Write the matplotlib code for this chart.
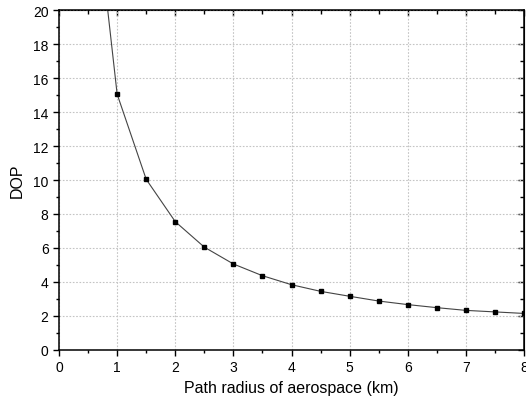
import matplotlib.pyplot as plt
import numpy as np

plt.rcParams['font.family'] = ['Liberation Sans', 'DejaVu Sans']

# path radius (km) and DOP
radius = [0.5, 1.0, 1.5, 2.0, 2.5, 3.0, 3.5, 4.0, 4.5, 5.0, 5.5, 6.0, 6.5, 7.0, 7.5, 8.0]
dop = [30.3, 15.05, 10.04, 7.55, 6.05, 5.06, 4.37, 3.84, 3.45, 3.16, 2.88, 2.67, 2.49, 2.33, 2.24, 2.15]

fig = plt.figure(figsize=(5.26, 4.02), dpi=100)
ax = fig.add_axes([0.1122, 0.1269, 0.8840, 0.8457])

ax.plot(radius, dop, color='#444444', lw=0.8, marker='s', ms=3.2,
        mfc='black', mec='black')

ax.set_xlim(0, 8)
ax.set_ylim(0, 20)
ax.set_xticks(np.arange(0, 9, 1))
ax.set_yticks(np.arange(0, 21, 2))
ax.set_xticks(np.arange(0.5, 8, 1), minor=True)
ax.set_yticks(np.arange(1, 20, 2), minor=True)

ax.grid(True, which='major', color='#c4c4c4', linestyle=(0, (1.5, 1.5)), lw=0.8)
ax.tick_params(which='major', direction='out', length=4, width=1, labelsize=10)
ax.tick_params(which='minor', direction='out', length=2.2, width=1)
for s in ax.spines.values():
    s.set_linewidth(1.1)

# top / right ticks pointing inward, no labels
top = ax.secondary_xaxis('top')
top.set_xticks(np.arange(0, 9, 1))
top.set_xticks(np.arange(0.5, 8, 1), minor=True)
top.tick_params(which='both', direction='in', labeltop=False, width=1)
top.tick_params(which='major', length=4)
top.tick_params(which='minor', length=3)
right = ax.secondary_yaxis('right')
right.set_yticks(np.arange(0, 21, 2))
right.set_yticks(np.arange(1, 20, 2), minor=True)
right.tick_params(which='both', direction='in', labelright=False, width=1)
right.tick_params(which='major', length=4)
right.tick_params(which='minor', length=3)

ax.set_xlabel('Path radius of aerospace (km)', fontsize=11.5, labelpad=4)
ax.set_ylabel('DOP', fontsize=11.5, labelpad=6)

fig.savefig('out.png', dpi=100)
